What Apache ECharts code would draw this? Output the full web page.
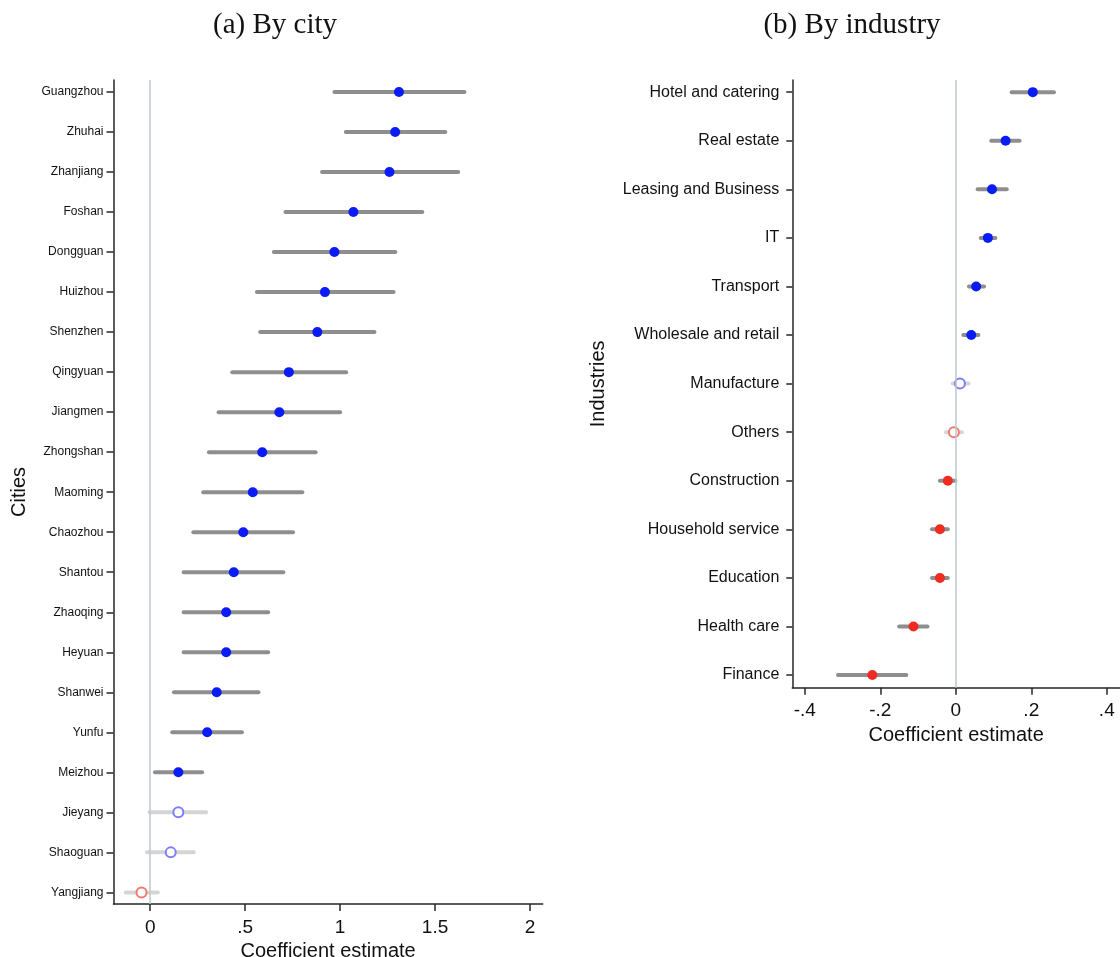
<!DOCTYPE html>
<html>
<head>
<meta charset="utf-8">
<script src="https://cdn.jsdelivr.net/npm/echarts@6/dist/echarts.min.js"></script>
<style>html,body{margin:0;padding:0;background:#fff;}#c{width:1120px;height:957px;}</style>
</head>
<body>
<div id="c"></div>
<script>
// ---- Panel (a): by city (top to bottom) ----
const cities = ['Guangzhou','Zhuhai','Zhanjiang','Foshan','Dongguan','Huizhou','Shenzhen','Qingyuan','Jiangmen','Zhongshan','Maoming','Chaozhou','Shantou','Zhaoqing','Heyuan','Shanwei','Yunfu','Meizhou','Jieyang','Shaoguan','Yangjiang'];
const cityCoef = [1.31,1.29,1.26,1.07,0.97,0.92,0.88,0.73,0.68,0.59,0.54,0.49,0.44,0.40,0.40,0.35,0.30,0.148,0.148,0.108,-0.046];
const cityLo   = [0.97,1.03,0.905,0.712,0.651,0.562,0.579,0.432,0.36,0.309,0.279,0.227,0.176,0.176,0.176,0.125,0.116,0.025,-0.004,-0.017,-0.129];
const cityHi   = [1.655,1.554,1.622,1.433,1.291,1.282,1.181,1.032,1.0,0.871,0.801,0.752,0.701,0.621,0.621,0.57,0.483,0.273,0.294,0.229,0.04];
const cityTicks = [0,0.5,1,1.5,2];

// ---- Panel (b): by industry (top to bottom) ----
const industries = ['Hotel and catering','Real estate','Leasing and Business','IT','Transport','Wholesale and retail','Manufacture','Others','Construction','Household service','Education','Health care','Finance'];
const indCoef = [0.204,0.132,0.096,0.085,0.054,0.041,0.011,-0.005,-0.021,-0.042,-0.042,-0.112,-0.221];
const indLo   = [0.148,0.094,0.058,0.066,0.035,0.020,-0.008,-0.026,-0.042,-0.063,-0.063,-0.150,-0.312];
const indHi   = [0.260,0.169,0.135,0.105,0.075,0.060,0.034,0.016,-0.001,-0.021,-0.021,-0.075,-0.131];
const indTicks = [-0.4,-0.2,0,0.2,0.4];

const FONT = 'Liberation Sans, Arial, Helvetica, sans-serif';
const AXIS = '#262626';

function fmtNum(v){
  let s = String(Math.round(v*1000)/1000);
  return s.replace(/^(-?)0\./, '$1.');
}
function isSig(lo, hi){ return lo > 0 || hi < 0; }

function ciData(names, lo, hi){
  const n = names.length;
  return names.map((_, i) => [lo[i], hi[i], n - i, isSig(lo[i], hi[i]) ? 1 : 0]);
}
function ptData(names, coef, lo, hi){
  const n = names.length;
  return names.map((_, i) => {
    const sig = isSig(lo[i], hi[i]);
    const pos = coef[i] >= 0;
    const col = sig ? (pos ? '#0a1cf5' : '#ee2c22') : (pos ? '#7d7dff' : '#f07a72');
    return {
      value: [coef[i], n - i],
      symbol: sig ? 'circle' : 'emptyCircle',
      itemStyle: sig ? {color: col, borderWidth: 0, opacity: 1} : {color: col, borderColor: col, borderWidth: 1.5, opacity: 1}
    };
  });
}
function renderCI(params, api){
  const y = api.value(2);
  const p1 = api.coord([api.value(0), y]);
  const p2 = api.coord([api.value(1), y]);
  return {
    type: 'line',
    shape: {x1: p1[0], y1: p1[1], x2: p2[0], y2: p2[1]},
    style: {stroke: api.value(3) ? '#8e8e8e' : '#d5d5d5', lineWidth: 4, lineCap: 'round'}
  };
}

const chart = echarts.init(document.getElementById('c'), null, {renderer: 'canvas'});
const option = {
  backgroundColor: '#ffffff',
  animation: false,
  graphic: [
    {type: 'text', x: 275, y: 25, style: {text: '(a) By city', font: '29px "Liberation Serif", "DejaVu Serif", serif', fill: '#111', textAlign: 'center', textVerticalAlign: 'middle'}},
    {type: 'text', x: 852, y: 25, style: {text: '(b) By industry', font: '29px "Liberation Serif", "DejaVu Serif", serif', fill: '#111', textAlign: 'center', textVerticalAlign: 'middle'}}
  ],
  grid: [
    {left: 113.5, top: 80, width: 429.2, height: 824, containLabel: false, outerBoundsMode: 'none'},
    {left: 792.3, top: 80, width: 327.7, height: 607.7, containLabel: false, outerBoundsMode: 'none'}
  ],
  xAxis: [
    {
      type: 'value', gridIndex: 0, min: -0.1935, max: 2.067,
      name: 'Coefficient estimate', nameLocation: 'middle', nameGap: 30,
      nameTextStyle: {fontFamily: FONT, fontSize: 20, color: '#111'},
      axisLine: {show: true, onZero: false, lineStyle: {color: AXIS, width: 1.5}},
      axisTick: {show: true, length: 7, customValues: cityTicks, lineStyle: {color: AXIS, width: 1.5}},
      axisLabel: {customValues: cityTicks, formatter: fmtNum, fontFamily: FONT, fontSize: 19, color: '#111', margin: 14},
      splitLine: {show: false}
    },
    {
      type: 'value', gridIndex: 1, min: -0.433, max: 0.435,
      name: 'Coefficient estimate', nameLocation: 'middle', nameGap: 34,
      nameTextStyle: {fontFamily: FONT, fontSize: 20, color: '#111'},
      axisLine: {show: true, onZero: false, lineStyle: {color: AXIS, width: 1.5}},
      axisTick: {show: true, length: 7, customValues: indTicks, lineStyle: {color: AXIS, width: 1.5}},
      axisLabel: {customValues: indTicks, formatter: fmtNum, fontFamily: FONT, fontSize: 19, color: '#111', margin: 14},
      splitLine: {show: false}
    }
  ],
  yAxis: [
    {
      type: 'value', gridIndex: 0, min: 0.71, max: 21.3,
      name: 'Cities', nameLocation: 'middle', nameGap: 84, nameRotate: 90,
      nameTextStyle: {fontFamily: FONT, fontSize: 20, color: '#111'},
      axisLine: {show: true, onZero: false, lineStyle: {color: AXIS, width: 1.5}},
      axisTick: {show: true, length: 7, customValues: cities.map((_, i) => i + 1), lineStyle: {color: AXIS, width: 1.5}},
      axisLabel: {customValues: cities.map((_, i) => i + 1), formatter: v => cities[cities.length - Math.round(v)], fontFamily: FONT, fontSize: 12, color: '#111', margin: 10},
      splitLine: {show: false}
    },
    {
      type: 'value', gridIndex: 1, min: 0.74, max: 13.25,
      name: 'Industries', nameLocation: 'middle', nameGap: 184, nameRotate: 90,
      nameTextStyle: {fontFamily: FONT, fontSize: 20, color: '#111'},
      axisLine: {show: true, onZero: false, lineStyle: {color: AXIS, width: 1.5}},
      axisTick: {show: true, length: 6, customValues: industries.map((_, i) => i + 1), lineStyle: {color: AXIS, width: 1.5}},
      axisLabel: {customValues: industries.map((_, i) => i + 1), formatter: v => industries[industries.length - Math.round(v)], fontFamily: FONT, fontSize: 16, color: '#111', margin: 13},
      splitLine: {show: false}
    }
  ],
  series: [
    {type: 'line', xAxisIndex: 0, yAxisIndex: 0, data: [], z: 1, silent: true,
      markLine: {silent: true, symbol: 'none', label: {show: false}, lineStyle: {color: '#bccaca', width: 1.5, type: 'solid'}, data: [{xAxis: 0}]}},
    {type: 'line', xAxisIndex: 1, yAxisIndex: 1, data: [], z: 1, silent: true,
      markLine: {silent: true, symbol: 'none', label: {show: false}, lineStyle: {color: '#bccaca', width: 1.5, type: 'solid'}, data: [{xAxis: 0}]}},
    {type: 'custom', xAxisIndex: 0, yAxisIndex: 0, z: 2, renderItem: renderCI, encode: {x: [0, 1], y: 2}, data: ciData(cities, cityLo, cityHi)},
    {type: 'custom', xAxisIndex: 1, yAxisIndex: 1, z: 2, renderItem: renderCI, encode: {x: [0, 1], y: 2}, data: ciData(industries, indLo, indHi)},
    {type: 'scatter', xAxisIndex: 0, yAxisIndex: 0, z: 3, symbolSize: 10, data: ptData(cities, cityCoef, cityLo, cityHi)},
    {type: 'scatter', xAxisIndex: 1, yAxisIndex: 1, z: 3, symbolSize: 10, data: ptData(industries, indCoef, indLo, indHi)}
  ]
};
chart.setOption(option);
</script>
</body>
</html>
